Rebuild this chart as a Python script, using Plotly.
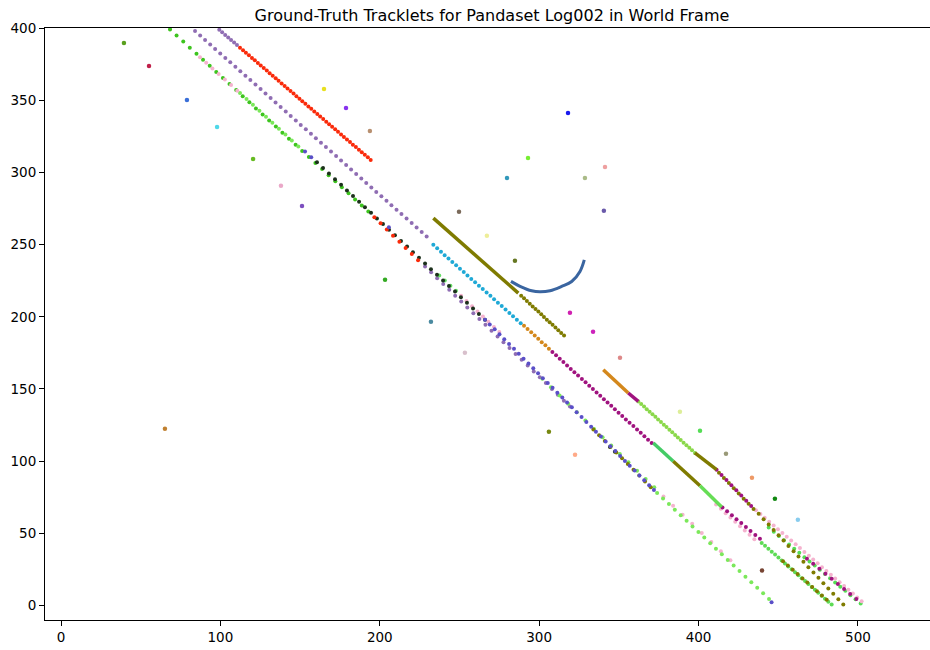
import plotly.graph_objects as go

# ---------------- data (world-frame x / y in metres) ----------------
purple_top_x = [99.3, 101.1, 103.0, 104.9, 106.7, 108.6, 110.4]
purple_top_y = [398.8, 397.0, 395.2, 393.5, 391.7, 389.9, 388.2]

red1_x = [112.3, 114.2, 116.0, 117.9, 119.8, 121.6, 123.5, 125.3, 127.2, 129.1, 130.9, 132.8, 134.7, 136.5,
          138.4, 140.3, 142.1, 144.0, 145.9, 147.7, 149.6, 151.4, 153.3, 155.2, 157.0, 158.9, 160.8, 162.6,
          164.5, 166.4, 168.2, 170.1, 172.0, 173.8, 175.7, 177.5, 179.4, 181.3, 183.1, 185.0, 186.9, 188.7,
          190.6, 192.5, 194.3]
red1_y = [386.4, 384.6, 382.9, 381.1, 379.3, 377.6, 375.8, 374.0, 372.3, 370.5, 368.7, 367.0, 365.2, 363.4,
          361.6, 359.9, 358.1, 356.3, 354.6, 352.8, 351.0, 349.3, 347.5, 345.7, 344.0, 342.2, 340.4, 338.7,
          336.9, 335.1, 333.4, 331.6, 329.8, 328.1, 326.3, 324.5, 322.8, 321.0, 319.2, 317.5, 315.7, 313.9,
          312.2, 310.4, 308.6]

purple_a_x = [84.1, 87.3, 90.4, 93.6, 96.7, 99.9, 103.1, 106.2, 109.4, 112.5, 115.7, 118.8, 122.0, 125.2,
              128.3, 131.5, 134.6, 137.8, 141.0, 144.1, 147.3, 150.4, 153.6, 156.8, 159.9, 163.1, 166.2,
              169.4, 172.6, 175.7, 178.9, 182.0, 185.2, 188.4, 191.5, 194.7, 197.8, 201.0, 204.2, 207.3,
              210.5, 213.6, 216.8, 220.0, 223.1, 226.3, 229.4]
purple_a_y = [397.9, 394.8, 391.7, 388.6, 385.5, 382.4, 379.3, 376.2, 373.2, 370.1, 367.0, 363.9, 360.8, 357.7,
              354.6, 351.5, 348.4, 345.3, 342.2, 339.1, 336.0, 332.9, 329.8, 326.7, 323.7, 320.6, 317.5,
              314.4, 311.3, 308.2, 305.1, 302.0, 298.9, 295.8, 292.7, 289.6, 286.5, 283.4, 280.3, 277.2,
              274.2, 271.1, 268.0, 264.9, 261.8, 258.7, 255.6]

green_a_x = [68.4, 72.5, 76.7, 80.8, 85.0, 89.1, 93.3, 97.4, 101.6, 105.7, 109.9, 114.0, 118.2, 122.3, 126.5,
             130.6, 134.8, 138.9, 143.0, 147.2, 151.3, 155.5, 159.6, 163.8, 167.9, 172.1, 176.2, 180.4,
             184.5, 188.7, 192.8]
green_a_y = [399.0, 394.8, 390.6, 386.4, 382.2, 378.0, 373.8, 369.6, 365.4, 361.2, 357.0, 352.8, 348.6, 344.3,
             340.1, 335.9, 331.7, 327.5, 323.3, 319.1, 314.9, 310.7, 306.5, 302.3, 298.1, 293.9, 289.7,
             285.5, 281.3, 277.1, 272.9]

lgreen_a_x = [112.3, 116.4, 120.4, 124.5, 128.6, 132.6, 136.7, 140.8, 144.8, 148.9]
lgreen_a_y = [355.0, 350.9, 346.8, 342.7, 338.6, 334.4, 330.3, 326.2, 322.1, 318.0]

pink_a_x = [87.2, 91.1, 95.0, 98.9, 102.8, 106.7, 110.6]
pink_a_y = [379.7, 375.9, 372.0, 368.2, 364.3, 360.5, 356.6]

violet_a_x = [153.1, 157.0, 205.7]
violet_a_y = [314.4, 310.5, 262.0]

black_x = [160.6, 164.4, 168.1, 171.9, 175.7, 179.4, 183.2, 187.0, 190.7, 194.5, 198.2, 202.0, 205.8, 209.5,
           213.3, 217.1, 220.8, 224.6, 228.4, 232.1, 235.9, 239.7, 243.4, 247.2, 250.9, 254.7, 258.5,
           262.2, 266.0, 344.4, 347.5]
black_y = [307.0, 303.1, 299.2, 295.3, 291.4, 287.5, 283.6, 279.7, 275.9, 272.0, 268.1, 264.2, 260.3, 256.4,
           252.5, 248.6, 244.7, 240.8, 236.9, 233.0, 229.1, 225.2, 221.4, 217.5, 213.6, 209.7, 205.8,
           201.9, 198.0, 109.8, 106.5]

red2_x = [196.6, 200.5, 204.4, 208.3, 212.3, 216.2, 220.1, 224.0]
red2_y = [269.0, 264.7, 260.5, 256.2, 252.0, 247.7, 243.5, 239.2]

lgreen_b_x = [237.3, 240.8, 244.3, 247.8]
lgreen_b_y = [228.6, 225.1, 221.5, 218.0]

purple_b_x = [228.4, 232.2, 236.0, 239.8, 243.6, 247.3, 251.1, 254.9, 258.7, 262.5, 266.3, 270.1, 273.9,
              277.6, 281.4, 285.2, 289.0, 292.8, 296.6, 300.4, 304.2, 308.0, 311.7, 315.5, 319.3]
purple_b_y = [234.8, 230.8, 226.7, 222.7, 218.7, 214.6, 210.6, 206.5, 202.5, 198.5, 194.4, 190.4, 186.3,
              182.3, 178.3, 174.2, 170.2, 166.2, 162.1, 158.1, 154.1, 150.0, 146.0, 141.9, 137.9]

pink_b_x = [251.0, 254.4, 257.9, 261.3, 264.7, 268.1, 271.6, 275.0]
pink_b_y = [214.5, 210.9, 207.3, 203.7, 200.2, 196.6, 193.0, 189.4]

violet_b_x = [266.0, 269.0, 272.1, 275.1, 278.1, 281.1, 284.2, 287.2, 290.2, 293.3, 296.3, 299.3, 302.3,
              305.4, 308.4, 311.4, 314.5, 317.5, 320.5, 323.5, 326.6, 329.6, 332.6, 335.6, 338.7, 341.7,
              344.7, 347.8, 350.8, 353.8, 356.8, 359.9, 362.9, 365.9, 369.0, 372.0, 445.8]
violet_b_y = [198.0, 194.6, 191.3, 187.9, 184.5, 181.1, 177.8, 174.4, 171.0, 167.7, 164.3, 160.9, 157.5,
              154.2, 150.8, 147.4, 144.1, 140.7, 137.3, 133.9, 130.6, 127.2, 123.8, 120.4, 117.1, 113.7,
              110.3, 107.0, 103.6, 100.2, 96.9, 93.5, 90.1, 86.7, 83.4, 80.0, 2.3]

lgreen_c_x = [302.0, 307.4, 312.8, 318.2, 323.6, 329.0, 334.4, 339.8, 345.2, 350.6, 356.0, 361.4, 366.8, 372.2]
lgreen_c_y = [157.0, 151.2, 145.4, 139.7, 133.9, 128.1, 122.3, 116.5, 110.8, 105.0, 99.2, 93.4, 87.6, 81.9]

lgreen_d_x = [374.0, 377.7, 381.4, 385.1, 388.8, 392.5, 396.2, 399.9, 403.6, 407.3, 410.9, 414.6, 418.3,
              422.0, 425.7, 429.4, 433.1, 436.8, 440.5, 444.2]
lgreen_d_y = [78.0, 74.1, 70.3, 66.4, 62.5, 58.7, 54.8, 51.0, 47.1, 43.2, 39.4, 35.5, 31.6, 27.8, 23.9,
              20.0, 16.2, 12.3, 8.5, 4.6]

pink_c_x = [378.0, 384.0, 390.0, 396.0, 402.0, 408.0, 414.0, 420.0]
pink_c_y = [75.5, 69.2, 62.9, 56.6, 50.3, 44.0, 37.7, 31.4]

olive_a_x = [334.0, 337.6, 341.2, 344.8, 348.4, 352.0, 355.6, 359.2, 362.8, 366.4, 370.0]
olive_a_y = [122.0, 118.0, 114.0, 110.0, 106.0, 102.0, 98.0, 94.0, 90.0, 86.0, 82.0]

olive_b_x = [288.7, 290.5, 292.3, 294.1, 295.9, 297.7, 299.5, 301.3, 303.0, 304.8, 306.6, 308.4, 310.2,
             312.0, 313.8, 315.6]
olive_b_y = [214.6, 212.8, 210.9, 209.1, 207.2, 205.4, 203.6, 201.7, 199.9, 198.0, 196.2, 194.4, 192.5,
             190.7, 188.8, 187.0]

cyan_x = [233.6, 236.0, 238.4, 240.7, 243.1, 245.5, 247.9, 250.3, 252.7, 255.0, 257.4, 259.8, 262.2, 264.6,
          267.0, 269.4, 271.7, 274.1, 276.5, 278.9, 281.3, 283.6, 286.0, 288.4]
cyan_y = [249.8, 247.4, 245.1, 242.7, 240.4, 238.0, 235.7, 233.3, 231.0, 228.6, 226.2, 223.9, 221.5, 219.2,
          216.8, 214.5, 212.1, 209.8, 207.4, 205.1, 202.7, 200.3, 198.0, 195.6]

orange_x = [290.5, 292.7, 295.0, 297.2, 299.4, 301.6, 303.9, 306.1]
orange_y = [193.8, 191.5, 189.3, 187.0, 184.7, 182.4, 180.2, 177.9]

magenta_a_x = [308.3, 310.6, 312.9, 315.2, 317.5, 319.8, 322.1, 324.4, 326.8, 329.1, 331.4, 333.7, 336.0,
               338.3, 340.6, 342.9, 345.2, 347.5, 349.8, 352.1, 354.4, 356.7, 359.1, 361.4, 363.7, 366.0,
               368.3, 370.6]
magenta_a_y = [175.6, 173.3, 170.9, 168.6, 166.3, 163.9, 161.6, 159.3, 156.9, 154.6, 152.3, 149.9, 147.6,
               145.3, 142.9, 140.6, 138.3, 135.9, 133.6, 131.3, 128.9, 126.6, 124.3, 121.9, 119.6, 117.3,
               114.9, 112.6]

magenta_b_x = [415.0, 417.9, 420.9, 423.8, 426.8, 429.7, 432.6, 435.6, 438.5]
magenta_b_y = [68.0, 65.3, 62.5, 59.8, 57.1, 54.4, 51.6, 48.9, 46.2]

pink_d_x = [411.0, 414.0, 417.0, 420.0, 423.0, 426.0, 429.0, 432.0, 435.0]
pink_d_y = [70.0, 67.0, 64.0, 61.0, 58.0, 55.0, 52.0, 49.0, 46.0]

green_m_x = [439.6, 441.7, 443.8, 445.9, 448.0, 450.1, 452.1, 454.2, 456.3, 458.4, 460.5, 462.6, 464.7,
             466.8, 468.9, 471.0, 473.0, 475.1, 477.2, 479.3, 481.4, 483.5]
green_m_y = [43.4, 41.4, 39.3, 37.3, 35.3, 33.2, 31.2, 29.2, 27.1, 25.1, 23.1, 21.0, 19.0, 17.0, 14.9,
             12.9, 10.9, 8.8, 6.8, 4.8, 2.7, 0.7]

olive_m_x = [453.0, 456.0, 459.1, 462.1, 465.2, 468.2, 471.3, 474.3, 477.4, 480.4]
olive_m_y = [30.7, 27.7, 24.8, 21.8, 18.8, 15.9, 12.9, 9.9, 6.9, 4.0]

lgreen_r_x = [362.2, 364.0, 365.8, 367.5, 369.3, 371.1, 372.9, 374.6, 376.4, 378.2, 379.9, 381.7, 383.5,
              385.3, 387.0, 388.8, 390.6, 392.4, 394.2, 395.9, 397.7]
lgreen_r_y = [141.4, 139.6, 137.8, 136.0, 134.3, 132.5, 130.7, 128.9, 127.1, 125.3, 123.6, 121.8, 120.0,
              118.2, 116.4, 114.6, 112.8, 111.1, 109.3, 107.5, 105.7]

magenta_r_x = [411.3, 414.4, 417.5, 420.6, 423.7, 426.8, 429.9, 433.0,
               468.0, 471.9, 475.8, 479.6, 483.5, 487.4, 491.3, 495.1, 499.0]
magenta_r_y = [94.1, 90.5, 86.9, 83.3, 79.8, 76.2, 72.6, 69.0,
               32.5, 29.0, 25.5, 22.0, 18.5, 15.0, 11.5, 8.0, 4.5]

olive_r_x = [412.8, 415.9, 419.0, 422.1, 425.2, 428.3, 431.4, 434.5,
             437.7, 440.8, 444.0, 447.1, 450.2, 453.3, 456.4, 459.6, 462.7, 465.8, 468.9, 472.1, 475.2,
             478.3, 481.4, 484.5, 487.7, 490.8]
olive_r_y = [91.9, 88.4, 84.8, 81.2, 77.6, 74.0, 70.5, 66.9,
             63.5, 59.8, 56.1, 52.4, 48.7, 45.0, 41.3, 37.6, 33.9, 30.3, 26.6, 22.9, 19.2, 15.5, 11.8,
             8.1, 4.4, 0.7]

pink_r_x = [436.0, 438.8, 441.5, 444.3, 447.1, 449.8, 452.6, 455.3, 458.1, 460.9, 463.6, 466.4, 469.2,
            471.9, 474.7, 477.4, 480.2, 483.0, 485.7, 488.5, 491.3, 494.0, 496.8, 499.5, 502.3]
pink_r_y = [66.0, 63.4, 60.8, 58.1, 55.5, 52.9, 50.3, 47.6, 45.0, 42.4, 39.8, 37.1, 34.5, 31.9, 29.3,
            26.6, 24.0, 21.4, 18.8, 16.1, 13.5, 10.9, 8.3, 5.6, 3.0]

green_r_x = [444.0, 447.2, 450.4, 453.6, 456.8, 460.0, 463.2, 466.4, 469.6, 472.9, 476.1, 479.3, 482.5,
             485.7, 488.9, 492.1, 495.3, 498.5, 501.7]
green_r_y = [54.0, 51.1, 48.2, 45.2, 42.3, 39.4, 36.5, 33.5, 30.6, 27.7, 24.8, 21.9, 18.9, 16.0, 13.1,
             10.2, 7.2, 4.3, 1.4]

# densely sampled stretches (slow-moving objects)
olive_dense_x = [233.6, 286.9]
olive_dense_y = [268.3, 216.4]
orange_dense_x = [340.2, 355.9]
orange_dense_y = [163.3, 147.2]
magenta_dense_x = [355.9, 362.2]
magenta_dense_y = [147.2, 141.4]
olive_r_dense_x = [397.7, 411.3]
olive_r_dense_y = [105.7, 94.1]
teal_m_dense_x = [371.6, 384.1]
teal_m_dense_y = [112.6, 99.9]
olive_m_dense_x = [384.1, 400.9]
olive_m_dense_y = [99.9, 83.0]
lgreen_m_dense_x = [400.9, 414.5]
lgreen_m_dense_y = [83.0, 68.3]

# turning vehicle (blue arc)
arc_x = [282.3, 288.0, 295.3, 300.5, 306.8, 314.1, 320.4, 325.6, 328.3]
arc_y = [224.5, 221.1, 218.0, 217.3, 218.0, 221.0, 224.4, 231.4, 239.4]

# single-frame / static objects
iso_x = [39.5, 55.2, 79.0, 97.9, 120.5, 138.0, 151.2, 165.0, 178.8, 193.8, 203.3, 65.2, 232.1, 249.7,
         267.2, 253.4, 279.8, 284.8, 293.0, 318.1, 328.7, 341.3, 340.6, 319.3, 333.8, 350.7, 306.1,
         322.5, 388.3, 400.9, 417.2, 433.5, 447.9, 462.3, 439.8]
iso_y = [389.6, 373.7, 350.2, 331.5, 309.3, 290.7, 276.8, 357.8, 344.6, 328.7, 225.6, 122.5, 196.5, 272.7,
         256.1, 175.1, 296.2, 238.8, 310.0, 341.2, 296.2, 303.8, 273.4, 202.8, 189.6, 171.6, 120.4,
         104.5, 134.3, 121.1, 105.2, 88.6, 74.0, 59.5, 24.2]
iso_colors = ["#5aa01e", "#c0204a", "#3a6fd8", "#4fd8e8", "#66bb22", "#eaa8c8", "#7d4fbf", "#e8e020",
              "#8833ee", "#b89070", "#33aa22", "#c08030", "#4a8aa0", "#7a6a5a", "#eeee99", "#d8c0cc",
              "#3399bb", "#667722", "#77ee33", "#1a1aee", "#aabb88", "#eea0a0", "#6a5aaa", "#d020b0",
              "#cc22bb", "#dd8888", "#778811", "#ffaa88", "#ddee99", "#55dd55", "#999977", "#ee9966",
              "#118811", "#88ccee", "#774433"]

x_ticks = [0, 100, 200, 300, 400, 500]
y_ticks = [0, 50, 100, 150, 200, 250, 300, 350, 400]

# ---------------- styles ----------------
PURPLE = "#8f6db3"
RED = "#fa2a0a"
GREEN = "#3dc41e"
LGREEN = "#7be85a"
PINK = "#f5b3cf"
BLACK = "#1c301c"
VIOLET = "#5a4fc8"
OLIVE = "#7f7b00"
CYAN = "#1fa9d6"
ORANGE = "#d4881c"
MAGENTA = "#a0137f"

dotted = [
    (purple_top_x, purple_top_y, PURPLE),
    (purple_a_x, purple_a_y, PURPLE),
    (green_a_x, green_a_y, GREEN),
    (lgreen_a_x, lgreen_a_y, LGREEN),
    (pink_a_x, pink_a_y, PINK),
    (red1_x, red1_y, RED),
    (pink_b_x, pink_b_y, PINK),
    (purple_b_x, purple_b_y, PURPLE),
    (lgreen_b_x, lgreen_b_y, "#66dd66"),
    (black_x, black_y, BLACK),
    (red2_x, red2_y, RED),
    (violet_a_x, violet_a_y, VIOLET),
    (lgreen_c_x, lgreen_c_y, LGREEN),
    (olive_a_x, olive_a_y, OLIVE),
    (violet_b_x, violet_b_y, VIOLET),
    (pink_c_x, pink_c_y, PINK),
    (lgreen_d_x, lgreen_d_y, LGREEN),
    (olive_b_x, olive_b_y, OLIVE),
    (cyan_x, cyan_y, CYAN),
    (orange_x, orange_y, ORANGE),
    (magenta_a_x, magenta_a_y, MAGENTA),
    (pink_d_x, pink_d_y, PINK),
    (magenta_b_x, magenta_b_y, MAGENTA),
    (green_m_x, green_m_y, "#5ddb55"),
    (olive_m_x, olive_m_y, OLIVE),
    (lgreen_r_x, lgreen_r_y, "#8ad84a"),
    (green_r_x, green_r_y, "#55dd55"),
    (pink_r_x, pink_r_y, PINK),
    (olive_r_x, olive_r_y, OLIVE),
    (magenta_r_x, magenta_r_y, MAGENTA),
]

dense = [
    (olive_dense_x, olive_dense_y, OLIVE),
    (orange_dense_x, orange_dense_y, ORANGE),
    (magenta_dense_x, magenta_dense_y, MAGENTA),
    (olive_r_dense_x, olive_r_dense_y, OLIVE),
    (teal_m_dense_x, teal_m_dense_y, "#44cc66"),
    (olive_m_dense_x, olive_m_dense_y, OLIVE),
    (lgreen_m_dense_x, lgreen_m_dense_y, "#66dd55"),
]

fig = go.Figure()
for xs, ys, c in dotted:
    fig.add_trace(go.Scatter(x=xs, y=ys, mode="markers",
                             marker=dict(color=c, size=4, line=dict(width=0)),
                             showlegend=False, hoverinfo="skip"))
for xs, ys, c in dense:
    fig.add_trace(go.Scatter(x=xs, y=ys, mode="lines",
                             line=dict(color=c, width=3.5),
                             showlegend=False, hoverinfo="skip"))
fig.add_trace(go.Scatter(x=arc_x, y=arc_y, mode="lines",
                         line=dict(color="#3a65a0", width=3, shape="spline"),
                         showlegend=False, hoverinfo="skip"))
fig.add_trace(go.Scatter(x=iso_x, y=iso_y, mode="markers",
                         marker=dict(color=iso_colors, size=4.5, line=dict(width=0)),
                         showlegend=False, hoverinfo="skip"))

fig.update_layout(
    width=930, height=650,
    margin=dict(l=45, r=0, t=28, b=30),
    plot_bgcolor="white", paper_bgcolor="white",
    font=dict(family="DejaVu Sans", size=13.5, color="black"),
    title=dict(text="Ground-Truth Tracklets for Pandaset Log002 in World Frame",
               x=0.529, xanchor="center", y=1 - 15 / 650, yanchor="middle",
               font=dict(family="DejaVu Sans", size=16, color="black")),
)
fig.update_xaxes(range=[-10.04, 545.2], tickvals=x_ticks, showgrid=False, zeroline=False,
                 showline=True, linecolor="black", linewidth=1, mirror=True,
                 ticks="outside", ticklen=5, tickwidth=1, tickcolor="black")
fig.update_yaxes(range=[-10, 400], tickvals=y_ticks, showgrid=False, zeroline=False,
                 showline=True, linecolor="black", linewidth=1,
                 ticks="outside", ticklen=5, tickwidth=1, tickcolor="black")

fig.write_html("out.html")
